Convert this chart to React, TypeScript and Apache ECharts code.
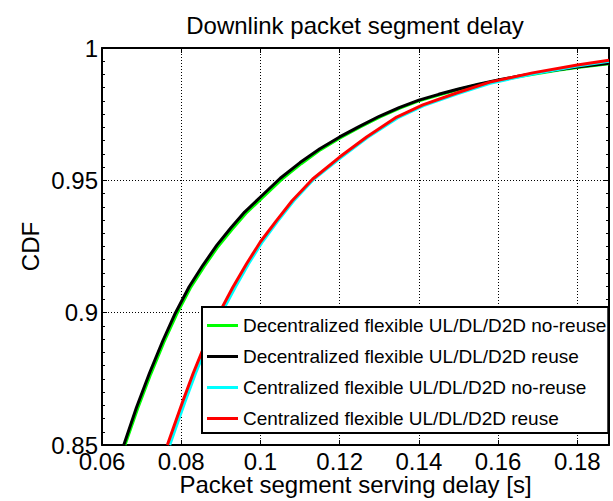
import React, { useEffect, useRef } from "react";
import * as echarts from "echarts";

const FONT = "'Liberation Sans', Arial, Helvetica, sans-serif";

const titleText = "Downlink packet segment delay";
const xName = "Packet segment serving delay [s]";
const yName = "CDF";

const seriesNames = [
  "Decentralized flexible UL/DL/D2D no-reuse",
  "Decentralized flexible UL/DL/D2D reuse",
  "Centralized flexible UL/DL/D2D no-reuse",
  "Centralized flexible UL/DL/D2D reuse",
];
const seriesColors = ["#00ff00", "#000000", "#00ffff", "#ff0000"];

const decNoReuse: number[][] = [
  [0.0658, 0.85], [0.069, 0.8638], [0.0723, 0.8768], [0.0756, 0.8888], [0.0788, 0.8993],
  [0.0823, 0.9093], [0.0858, 0.9175], [0.0893, 0.925], [0.0928, 0.9314], [0.0963, 0.9375],
  [0.1003, 0.9432], [0.1053, 0.9503], [0.1103, 0.9563], [0.1152, 0.9616], [0.1202, 0.9661],
  [0.1252, 0.9702], [0.1302, 0.974], [0.1352, 0.9773], [0.14, 0.98], [0.145, 0.9822],
  [0.15, 0.9843], [0.155, 0.9861], [0.16, 0.9877], [0.165, 0.9891], [0.17, 0.9904],
  [0.175, 0.9916], [0.18, 0.9926], [0.188, 0.994],
];
const decReuse: number[][] = [
  [0.0655, 0.85], [0.0687, 0.8642], [0.072, 0.8772], [0.0753, 0.8892], [0.0785, 0.8998],
  [0.082, 0.9098], [0.0855, 0.918], [0.089, 0.9255], [0.0925, 0.932], [0.096, 0.938],
  [0.1, 0.9437], [0.105, 0.9508], [0.11, 0.9567], [0.115, 0.9619], [0.12, 0.9664],
  [0.125, 0.9704], [0.13, 0.9742], [0.135, 0.9775], [0.14, 0.9803], [0.145, 0.9825],
  [0.15, 0.9845], [0.155, 0.9863], [0.16, 0.9879], [0.165, 0.9893], [0.17, 0.9906],
  [0.175, 0.9918], [0.18, 0.9928], [0.188, 0.9942],
];
const cenNoReuse: number[][] = [
  [0.0771, 0.85], [0.0791, 0.8585], [0.081, 0.8665], [0.0836, 0.877], [0.0866, 0.888],
  [0.0904, 0.9005], [0.0936, 0.9095], [0.097, 0.9185], [0.1005, 0.9268], [0.1044, 0.9347],
  [0.1084, 0.9423], [0.1135, 0.9505], [0.1203, 0.9586], [0.127, 0.9662], [0.1346, 0.9736],
  [0.1412, 0.9782], [0.1497, 0.9827], [0.158, 0.9867], [0.1688, 0.9902], [0.18, 0.9932],
  [0.188, 0.995],
];
const cenReuse: number[][] = [
  [0.0765, 0.85], [0.0785, 0.8585], [0.0804, 0.8665], [0.083, 0.877], [0.086, 0.888],
  [0.0898, 0.9005], [0.093, 0.9095], [0.0965, 0.9185], [0.1, 0.9268], [0.104, 0.9347],
  [0.108, 0.9423], [0.1132, 0.9505], [0.12, 0.9588], [0.1268, 0.9664], [0.1344, 0.9739],
  [0.141, 0.9785], [0.1495, 0.983], [0.1579, 0.9871], [0.1687, 0.9906], [0.18, 0.9936],
  [0.188, 0.9954],
];
const seriesData = [decNoReuse, decReuse, cenNoReuse, cenReuse];

const xMin = 0.06;
const xMax = 0.188;
const xInterval = 0.02;
const yMin = 0.85;
const yMax = 1;
const yInterval = 0.05;

export default function App() {
  const ref = useRef<HTMLDivElement>(null);
  useEffect(() => {
    const chart = echarts.init(ref.current!, null, { renderer: "svg" });
    const axisLine = { show: true, onZero: false, lineStyle: { color: "#000", width: 2 } };
    const tick = { show: true, inside: true, length: 5, lineStyle: { color: "#000", width: 1 } };
    const minor = { show: true, splitNumber: 10, length: 3, lineStyle: { color: "#000", width: 1 } };
    const labelStyle = { color: "#000", fontSize: 24, fontFamily: FONT };
    const grid = { color: "#000", width: 1, type: [1, 2] };
    chart.setOption({
      animation: false,
      backgroundColor: "#fff",
      grid: { left: 102, top: 48, right: 4, bottom: 56, containLabel: false, outerBoundsMode: "none" },
      graphic: [
        {
          type: "text",
          x: 355,
          y: 25,
          style: { text: titleText, fill: "#000", font: `24px ${FONT}`, textAlign: "center", textVerticalAlign: "middle" },
        },
      ],
      xAxis: [
        {
          type: "value", position: "bottom", min: xMin, max: xMax, interval: xInterval,
          axisLine, axisTick: tick,
          axisLabel: { ...labelStyle, lineHeight: 16, margin: 8, showMaxLabel: false },
          splitLine: { show: true, lineStyle: grid },
          name: xName, nameLocation: "middle", nameGap: 30, nameMoveOverlap: false,
          nameTextStyle: { ...labelStyle, lineHeight: 18 },
        },
        {
          type: "value", position: "top", min: xMin, max: xMax, interval: xInterval,
          axisLine, axisTick: tick, axisLabel: { show: false }, splitLine: { show: false },
        },
      ],
      yAxis: [
        {
          type: "value", position: "left", min: yMin, max: yMax, interval: yInterval,
          axisLine, axisTick: tick, minorTick: minor,
          axisLabel: { ...labelStyle, lineHeight: 16, margin: 4 },
          splitLine: { show: true, lineStyle: grid },
          name: yName, nameLocation: "middle", nameGap: 60, nameMoveOverlap: false,
          nameTextStyle: { ...labelStyle },
        },
        {
          type: "value", position: "right", min: yMin, max: yMax, interval: yInterval,
          axisLine, axisTick: tick, minorTick: minor, axisLabel: { show: false }, splitLine: { show: false },
        },
      ],
      legend: {
        orient: "vertical",
        left: 202,
        top: 307,
        padding: [9, 2, 5, 5],
        itemGap: 12,
        itemWidth: 31,
        itemHeight: 3,
        icon: "rect",
        selectedMode: false,
        backgroundColor: "#fff",
        borderColor: "#000",
        borderWidth: 2,
        borderRadius: 0,
        textStyle: { color: "#000", fontSize: 19, fontFamily: FONT },
        data: seriesNames,
      },
      series: seriesNames.map((name, i) => ({
        name,
        type: "line",
        data: seriesData[i],
        showSymbol: false,
        symbol: "none",
        smooth: false,
        lineStyle: { color: seriesColors[i], width: 3 },
        itemStyle: { color: seriesColors[i] },
        xAxisIndex: 0,
        yAxisIndex: 0,
      })),
    });
    return () => chart.dispose();
  }, []);
  return <div ref={ref} style={{ position: "absolute", left: 0, top: 0, width: 613, height: 501 }} />;
}
